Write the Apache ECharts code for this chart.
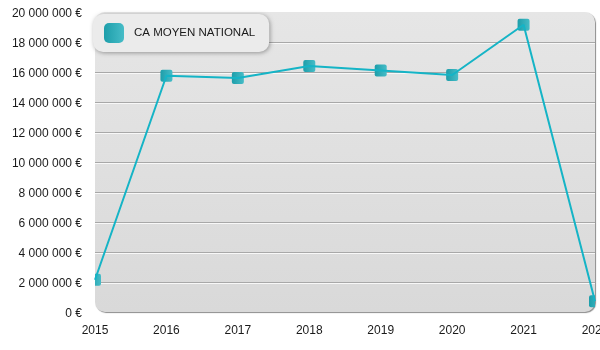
<!DOCTYPE html>
<html>
<head>
<meta charset="utf-8">
<script src="https://cdn.jsdelivr.net/npm/echarts@6/dist/echarts.min.js"></script>
<style>
  html, body { margin: 0; padding: 0; background: #ffffff; }
  #chart { width: 600px; height: 350px; }
</style>
</head>
<body>
<div id="chart"></div>
<script>
// Chiffre d'affaires moyen national par année
const years = ['2015', '2016', '2017', '2018', '2019', '2020', '2021', '2022'];
const caMoyen = [2150000, 15750000, 15600000, 16400000, 16100000, 15800000, 19150000, 720000];
const seriesName = 'CA MOYEN NATIONAL';
const yMin = 0;
const yMax = 20000000;
const yStep = 2000000;

const FONT = '"Liberation Sans", Arial, sans-serif';
const GRID = { left: 95, right: 5, top: 12, bottom: 38 };
const MARKER = 12;

function euro(v) {
  return '{v|' + String(v).replace(/\B(?=(\d{3})+(?!\d))/g, ' ') + ' €}';
}

function markerFill() {
  return new echarts.graphic.LinearGradient(0, 0, 1, 0, [
    { offset: 0, color: '#1d9eaa' },
    { offset: 1, color: '#46bcc7' }
  ]);
}

const chart = echarts.init(document.getElementById('chart'), null, { renderer: 'canvas' });

const plotW = 600 - GRID.left - GRID.right;
const plotH = 350 - GRID.top - GRID.bottom;

chart.setOption({
  animation: false,
  grid: {
    left: GRID.left, right: GRID.right, top: GRID.top, bottom: GRID.bottom,
    outerBoundsMode: 'none', containLabel: false
  },
  graphic: [
    {
      // plot panel
      type: 'rect',
      z: -10,
      shape: { x: GRID.left, y: GRID.top, width: plotW, height: plotH, r: 10 },
      style: {
        fill: new echarts.graphic.LinearGradient(0, 0, 0, 1, [
          { offset: 0, color: '#e6e6e6' },
          { offset: 1, color: '#d9d9d9' }
        ]),
        shadowColor: 'rgba(0,0,0,0.45)',
        shadowBlur: 1,
        shadowOffsetX: 1,
        shadowOffsetY: 1
      },
      silent: true
    }
  ],
  legend: {
    z: 6,
    left: 93,
    top: 14,
    padding: [9, 14, 9, 11],
    backgroundColor: '#ebebeb',
    borderRadius: 10,
    shadowColor: 'rgba(0,0,0,0.35)',
    shadowBlur: 4,
    shadowOffsetX: 1,
    shadowOffsetY: 1,
    itemWidth: 20,
    itemHeight: 20,
    icon: 'roundRect',
    itemStyle: { color: markerFill() },
    textStyle: { fontFamily: FONT, fontSize: 11.5, color: '#1a1a1a', padding: [0, 0, 0, 5] },
    selectedMode: false,
    data: [seriesName]
  },
  xAxis: {
    type: 'category',
    z: 5,
    data: years,
    boundaryGap: false,
    axisLine: { show: false },
    axisTick: { show: false },
    splitLine: { show: false },
    axisLabel: { fontFamily: FONT, fontSize: 12, color: '#1a1a1a', margin: 13 }
  },
  yAxis: {
    type: 'value',
    min: yMin,
    max: yMax,
    interval: yStep,
    axisLine: { show: false },
    axisTick: { show: false },
    axisLabel: {
      margin: 13,
      formatter: euro,
      rich: {
        v: { fontFamily: FONT, fontSize: 12, color: '#1a1a1a', padding: [4, 0, 0, 0] }
      }
    },
    splitLine: {
      show: true,
      showMinLine: false,
      showMaxLine: false,
      lineStyle: {
        color: '#a8a8a8',
        width: 1,
        shadowColor: '#f8f8f8',
        shadowBlur: 0,
        shadowOffsetY: 1
      }
    }
  },
  series: [
    {
      name: seriesName,
      type: 'line',
      data: caMoyen,
      symbol: 'none',
      lineStyle: { color: '#15b4c6', width: 2 },
      itemStyle: { color: '#15b4c6' },
      emphasis: { disabled: true }
    },
    {
      // square markers, trimmed to the plot panel
      name: seriesName,
      type: 'custom',
      clip: true,
      z: 3,
      silent: true,
      data: caMoyen.map(function (v, i) { return [i, v]; }),
      encode: { x: 0, y: 1 },
      renderItem: function (params, api) {
        const p = api.coord([api.value(0), api.value(1)]);
        return {
          type: 'rect',
          shape: { x: p[0] - MARKER / 2, y: p[1] - MARKER / 2, width: MARKER, height: MARKER, r: 2 },
          style: { fill: markerFill() }
        };
      }
    }
  ]
});
</script>
</body>
</html>
